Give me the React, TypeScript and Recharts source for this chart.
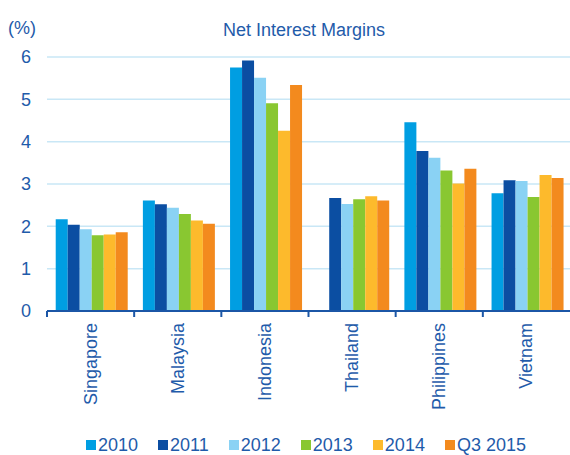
import React from 'react';
import { BarChart, Bar, XAxis, YAxis, CartesianGrid, Legend } from 'recharts';

const countries = ['Singapore', 'Malaysia', 'Indonesia', 'Thailand', 'Philippines', 'Vietnam'];
const seriesNames = ['2010', '2011', '2012', '2013', '2014', 'Q3 2015'];
const v2010 = [2.17, 2.61, 5.75, null, 4.46, 2.78];
const v2011 = [2.04, 2.52, 5.92, 2.67, 3.78, 3.09];
const v2012 = [1.93, 2.44, 5.51, 2.53, 3.62, 3.07];
const v2013 = [1.79, 2.29, 4.91, 2.64, 3.32, 2.69];
const v2014 = [1.81, 2.14, 4.26, 2.71, 3.01, 3.21];
const vQ32015 = [1.86, 2.06, 5.34, 2.61, 3.36, 3.14];
const yTicks = [0, 1, 2, 3, 4, 5, 6];

const seriesValues = [v2010, v2011, v2012, v2013, v2014, vQ32015];
const colors = ['#009EE2', '#0B4EA2', '#8AD2F4', '#89C731', '#FDBA2C', '#F38A1E'];
const keys = ['s0', 's1', 's2', 's3', 's4', 's5'];

const data = countries.map((c, i) => {
  const row: any = { country: c };
  keys.forEach((k, j) => {
    row[k] = seriesValues[j][i];
  });
  return row;
});

const TEXT = '#1F5BAA';
const AXIS = '#1B56A6';
const FONT = '"Liberation Sans", Arial, sans-serif';
const PLOT_LEFT = 47;
const PLOT_RIGHT = 570;
const STEP = (PLOT_RIGHT - PLOT_LEFT) / countries.length;

function CountryTick(props: any) {
  const { x, y, payload } = props;
  const ty = y + 12;
  return (
    <g>
      <line x1={x - STEP / 2} x2={x - STEP / 2} y1={y} y2={y + 6} stroke={AXIS} strokeWidth={2} />
      <text
        x={x}
        y={ty}
        transform={`rotate(-90 ${x} ${ty})`}
        textAnchor="end"
        dominantBaseline="central"
        fill={TEXT}
        fontSize={18}
        fontFamily={FONT}
      >
        {payload.value}
      </text>
    </g>
  );
}

function LegendContent() {
  return (
    <div style={{ display: 'flex', height: 20, alignItems: 'center', fontFamily: FONT, fontSize: 18, color: TEXT }}>
      {seriesNames.map((n, i) => (
        <div key={n} style={{ display: 'flex', alignItems: 'center', marginRight: i < seriesNames.length - 1 ? 20 : 0 }}>
          <span style={{ display: 'inline-block', width: 10, height: 10, background: colors[i], marginRight: 2 }} />
          <span style={{ lineHeight: '20px' }}>{n}</span>
        </div>
      ))}
    </div>
  );
}

export default function App() {
  return (
    <div style={{ position: 'absolute', left: 0, top: 0, width: 570, height: 455, background: '#fff' }}>
      <div style={{ position: 'absolute', left: 8, top: 17, fontFamily: FONT, fontSize: 18, color: TEXT, lineHeight: '22px' }}>(%)</div>
      <div style={{ position: 'absolute', left: 0, width: 608, top: 19, textAlign: 'center', fontFamily: FONT, fontSize: 18, color: TEXT, lineHeight: '22px' }}>
        Net Interest Margins
      </div>
      <BarChart
        width={570}
        height={455}
        data={data}
        margin={{ top: 57, right: 0, bottom: 0, left: 0 }}
        barCategoryGap="10%"
        barGap={0}
      >
        <CartesianGrid vertical={false} stroke="#C9E7F6" strokeWidth={1.5} />
        <YAxis
          domain={[0, 6]}
          ticks={yTicks}
          width={PLOT_LEFT}
          axisLine={false}
          tickLine={false}
          tickSize={0}
          tickMargin={16}
          tick={{ fill: TEXT, fontSize: 18, fontFamily: FONT }}
          interval={0}
        />
        <XAxis
          dataKey="country"
          height={124}
          axisLine={{ stroke: AXIS, strokeWidth: 2 }}
          tickLine={false}
          tickSize={0}
          tickMargin={0}
          interval={0}
          tick={<CountryTick />}
        />
        <Legend
          verticalAlign="bottom"
          layout="horizontal"
          content={<LegendContent />}
          wrapperStyle={{ left: 86, width: 'auto' }}
        />
        {keys.map((k, i) => (
          <Bar key={k} dataKey={k} name={seriesNames[i]} fill={colors[i]} isAnimationActive={false} />
        ))}
      </BarChart>
    </div>
  );
}
